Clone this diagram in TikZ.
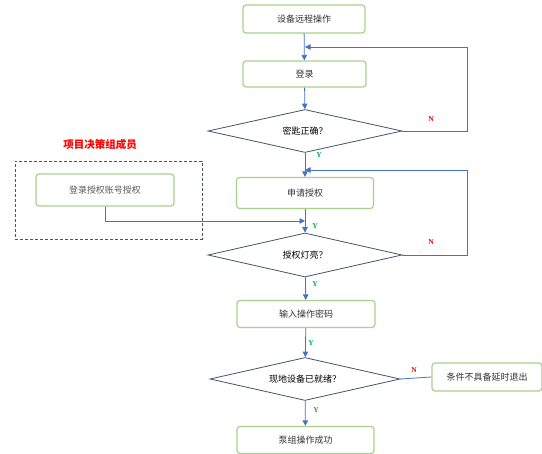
\documentclass[tikz,border=0pt]{standalone}
\usepackage{fontspec}
\newfontfamily\cjk{Noto Sans CJK SC}
\newfontfamily\lab{Liberation Serif}
\usetikzlibrary{shapes.geometric,arrows.meta}
\definecolor{boxg}{HTML}{A9D18E}
\definecolor{dia}{HTML}{44546A}
\definecolor{arrb}{HTML}{4472C4}
\definecolor{txt}{HTML}{333333}
\definecolor{yg}{HTML}{00B050}
\tikzset{
  procbox/.style={draw=boxg, line width=1.2pt, rounded corners=3pt, minimum width=137pt, minimum height=28pt, inner sep=0pt, font=\cjk\fontsize{9}{10}\selectfont, text=txt},
  decide/.style={draw=dia, line width=0.8pt, diamond, aspect=4.6, minimum width=194pt, minimum height=43pt, inner sep=0pt, font=\cjk\fontsize{9}{10}\selectfont, text=black},
  arr/.style={draw=arrb, line width=0.8pt, -{Triangle[length=5.5pt,width=5.5pt]}},
  plain/.style={draw=arrb, line width=0.8pt},
  ylab/.style={text=yg, font=\lab\bfseries\fontsize{7.5}{8}\selectfont, inner sep=0pt},
  nlab/.style={text=red, font=\lab\bfseries\fontsize{7.5}{8}\selectfont, inner sep=0pt}
}
\begin{document}
\begin{tikzpicture}[x=1pt,y=-1pt]
\useasboundingbox[fill=white] (0,0) rectangle (542,454);
% nodes
\node[procbox, minimum width=122pt] (start) at (304,19) {设备远程操作};
\node[procbox, minimum width=123pt, minimum height=26pt] (login) at (304.5,74) {登录};
\node[decide] (d1) at (305,131) {密匙正确？};
\node[procbox, minimum height=31pt] (apply) at (305,193) {申请授权};
\node[decide, minimum height=44pt] (d2) at (305,255) {授权灯亮？};
\node[procbox, minimum width=138pt, minimum height=27pt] (input) at (306,314) {输入操作密码};
\node[decide, minimum width=190pt] (d3) at (305,379) {现地设备已就绪？};
\node[procbox, minimum width=110pt, minimum height=28pt] (exit) at (487,377) {条件不具备延时退出};
\node[procbox, minimum height=27pt] (ok) at (305.5,440) {泵组操作成功};
% left group
\node[draw=dia, dash pattern=on 3pt off 2pt, line width=0.7pt, minimum width=187pt, minimum height=78pt, inner sep=0pt] (grp) at (108.5,200) {};
\node[procbox, minimum width=138pt, minimum height=32pt, text=black!65] (acct) at (105,190) {登录授权账号授权};
\node[text=red, font=\cjk\bfseries\fontsize{10.5}{12}\selectfont, inner sep=0pt] (title) at (100,145) {项目决策组成员};
% coordinates
\coordinate (r1) at (467,47);
\coordinate (j1) at (305,47);
\coordinate (r2) at (467,170);
\coordinate (j2) at (305,170);
\coordinate (j3) at (305,221);
% connectors
\draw[arr] (start) -- (login);
\draw[arr] (login) -- (d1);
\draw[arr] (d1.east) -| (r1) -- (j1);
\draw[arr] (d1) -- (apply);
\draw[arr] (apply) -- (d2);
\draw[arr] (acct.south) |- (j3);
\draw[arr] (d2.east) -| (r2) -- (j2);
\draw[arr] (d2) -- (input);
\draw[arr] (input) -- (d3);
\draw[plain] (d3.east) -- (exit.west);
\draw[arr] (d3) -- (ok);
% labels
\node[nlab] (n1) at (431,119) {N};
\node[ylab] (y1) at (319,155) {Y};
\node[ylab] (y2) at (315,226) {Y};
\node[nlab] (n2) at (431,242) {N};
\node[ylab] (y3) at (315,284) {Y};
\node[ylab] (y4) at (311,343) {Y};
\node[nlab] (n3) at (414,370) {N};
\node[ylab] (y5) at (316,410) {Y};
\end{tikzpicture}
\end{document}
